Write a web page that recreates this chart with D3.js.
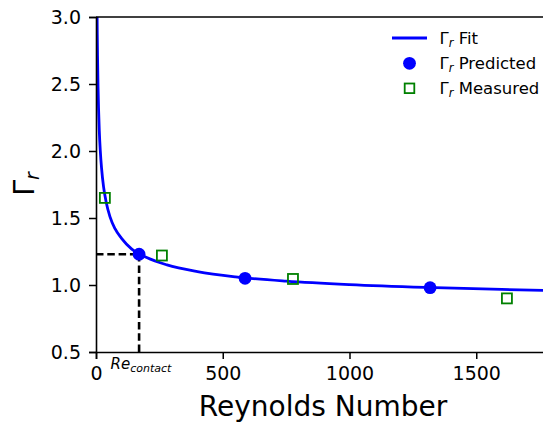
<!DOCTYPE html>
<html>
<head>
<meta charset="utf-8">
<script src="https://cdn.jsdelivr.net/npm/d3@7"></script>
<style>
  html, body { margin: 0; padding: 0; background: #fff; }
  svg { display: block; font-family: "DejaVu Sans", sans-serif; }
</style>
</head>
<body>
<svg id="chart" width="543" height="422"></svg>
<script>
// ---- data ----
const fitRe    = [3.5, 4.4, 5, 6, 8, 10, 13, 17, 22, 30, 40, 55, 75, 100, 140, 200, 280, 400, 550, 750, 1000, 1300, 1600, 1850];
const fitGamma = [3.23, 3.0, 2.87, 2.71, 2.48, 2.32, 2.15, 2.00, 1.87, 1.73, 1.62, 1.51, 1.42, 1.35, 1.27, 1.205, 1.15, 1.10, 1.061, 1.029, 1.003, 0.982, 0.967, 0.957];
const predictedRe    = [170, 588, 1318];
const predictedGamma = [1.23, 1.05, 0.98];
const measuredRe     = [35, 260, 777, 1621];
const measuredGamma  = [1.65, 1.22, 1.045, 0.90];
const contactRe = 170, contactGamma = 1.23;
const xTicks = [0, 500, 1000, 1500];
const yTicks = [0.5, 1.0, 1.5, 2.0, 2.5, 3.0];

// ---- layout ----
const svg = d3.select("#chart");
const mLeft = 96, mTop = 17, mBottom = 352;
const x = d3.scaleLinear().domain([0, 1800]).range([mLeft, mLeft + 1800 * 0.2535]);
const y = d3.scaleLinear().domain([0.5, 3.0]).range([mBottom, mTop]);
const blue = "#0000ff", green = "#008000";

svg.append("defs").append("clipPath").attr("id", "clip")
  .append("rect").attr("x", mLeft).attr("y", mTop).attr("width", 600).attr("height", mBottom - mTop);

// dashed guides
const g = svg.append("g").attr("clip-path", "url(#clip)");
g.append("line")
  .attr("x1", x(0)).attr("x2", x(contactRe)).attr("y1", y(contactGamma)).attr("y2", y(contactGamma))
  .attr("stroke", "#000").attr("stroke-width", 2.6).attr("stroke-dasharray", "7.5,3.8");
g.append("line")
  .attr("x1", x(contactRe)).attr("x2", x(contactRe)).attr("y1", y(0.5)).attr("y2", y(contactGamma))
  .attr("stroke", "#000").attr("stroke-width", 2.6).attr("stroke-dasharray", "7.5,3.8");

// fit line
const fitData = fitRe.map((r, i) => [r, fitGamma[i]]);
g.append("path").datum(fitData)
  .attr("fill", "none").attr("stroke", blue).attr("stroke-width", 2.8)
  .attr("d", d3.line().x(d => x(d[0])).y(d => y(d[1])).curve(d3.curveMonotoneX));

// predicted
g.selectAll("circle.pred").data(predictedRe.map((r, i) => [r, predictedGamma[i]]))
  .enter().append("circle")
  .attr("cx", d => x(d[0])).attr("cy", d => y(d[1])).attr("r", 6.4).attr("fill", blue);

// measured
const sq = 10;
g.selectAll("rect.meas").data(measuredRe.map((r, i) => [r, measuredGamma[i]]))
  .enter().append("rect")
  .attr("x", d => x(d[0]) - sq / 2).attr("y", d => y(d[1]) - sq / 2)
  .attr("width", sq).attr("height", sq)
  .attr("fill", "none").attr("stroke", green).attr("stroke-width", 1.8);

// axes
const xAxis = svg.append("g").attr("transform", `translate(0,${mBottom})`)
  .call(d3.axisBottom(x).tickValues(xTicks).tickFormat(d3.format("d")).tickSizeOuter(0).tickSize(7).tickPadding(7.5));
const yAxis = svg.append("g").attr("transform", `translate(${mLeft},0)`)
  .call(d3.axisLeft(y).tickValues(yTicks).tickFormat(d3.format(".1f")).tickSizeOuter(0).tickSize(7).tickPadding(8));
[xAxis, yAxis].forEach(a => {
  a.selectAll("text").attr("font-size", 19).attr("fill", "#000").attr("font-family", "DejaVu Sans");
  a.selectAll("line").attr("stroke", "#000").attr("stroke-width", 1.5);
  a.select(".domain").attr("stroke", "#000").attr("stroke-width", 1.6);
});
xAxis.selectAll("text").attr("dy", "0.71em");
// top spine
svg.append("line").attr("x1", mLeft).attr("x2", 545).attr("y1", mTop).attr("y2", mTop)
  .attr("stroke", "#000").attr("stroke-width", 1.6);

// axis labels
svg.append("text").attr("x", 323).attr("y", 416).attr("text-anchor", "middle")
  .attr("font-size", 28).text("Reynolds Number");
const yl = svg.append("text").attr("transform", "translate(34,184) rotate(-90)")
  .attr("text-anchor", "middle").attr("font-size", 28.5);
yl.append("tspan").text("Γ");
yl.append("tspan").attr("font-size", 19).attr("font-style", "italic").attr("dy", 5).text("r");

// Re_contact annotation
const rc = svg.append("text").attr("x", 110.5).attr("y", 369).attr("font-size", 15).attr("font-style", "italic");
rc.append("tspan").text("Re");
rc.append("tspan").attr("font-size", 11).attr("dy", 3).text("contact");

// legend
const lg = svg.append("g");
lg.append("line").attr("x1", 392).attr("x2", 427).attr("y1", 38).attr("y2", 38)
  .attr("stroke", blue).attr("stroke-width", 2.8);
lg.append("circle").attr("cx", 409.5).attr("cy", 63.3).attr("r", 6.4).attr("fill", blue);
lg.append("rect").attr("x", 409.5 - 4.8).attr("y", 88.3 - 4.8).attr("width", 9.6).attr("height", 9.6)
  .attr("fill", "none").attr("stroke", green).attr("stroke-width", 1.8);
const labels = ["Fit", "Predicted", "Measured"];
const baselines = [44, 69, 94];
labels.forEach((l, i) => {
  const t = lg.append("text").attr("x", 439.5).attr("y", baselines[i]).attr("font-size", 16.5);
  t.append("tspan").text("Γ");
  t.append("tspan").attr("font-size", 11.5).attr("font-style", "italic").attr("dy", 3).text("r");
  t.append("tspan").attr("dy", -3).text(" " + l);
});
</script>
</body>
</html>
